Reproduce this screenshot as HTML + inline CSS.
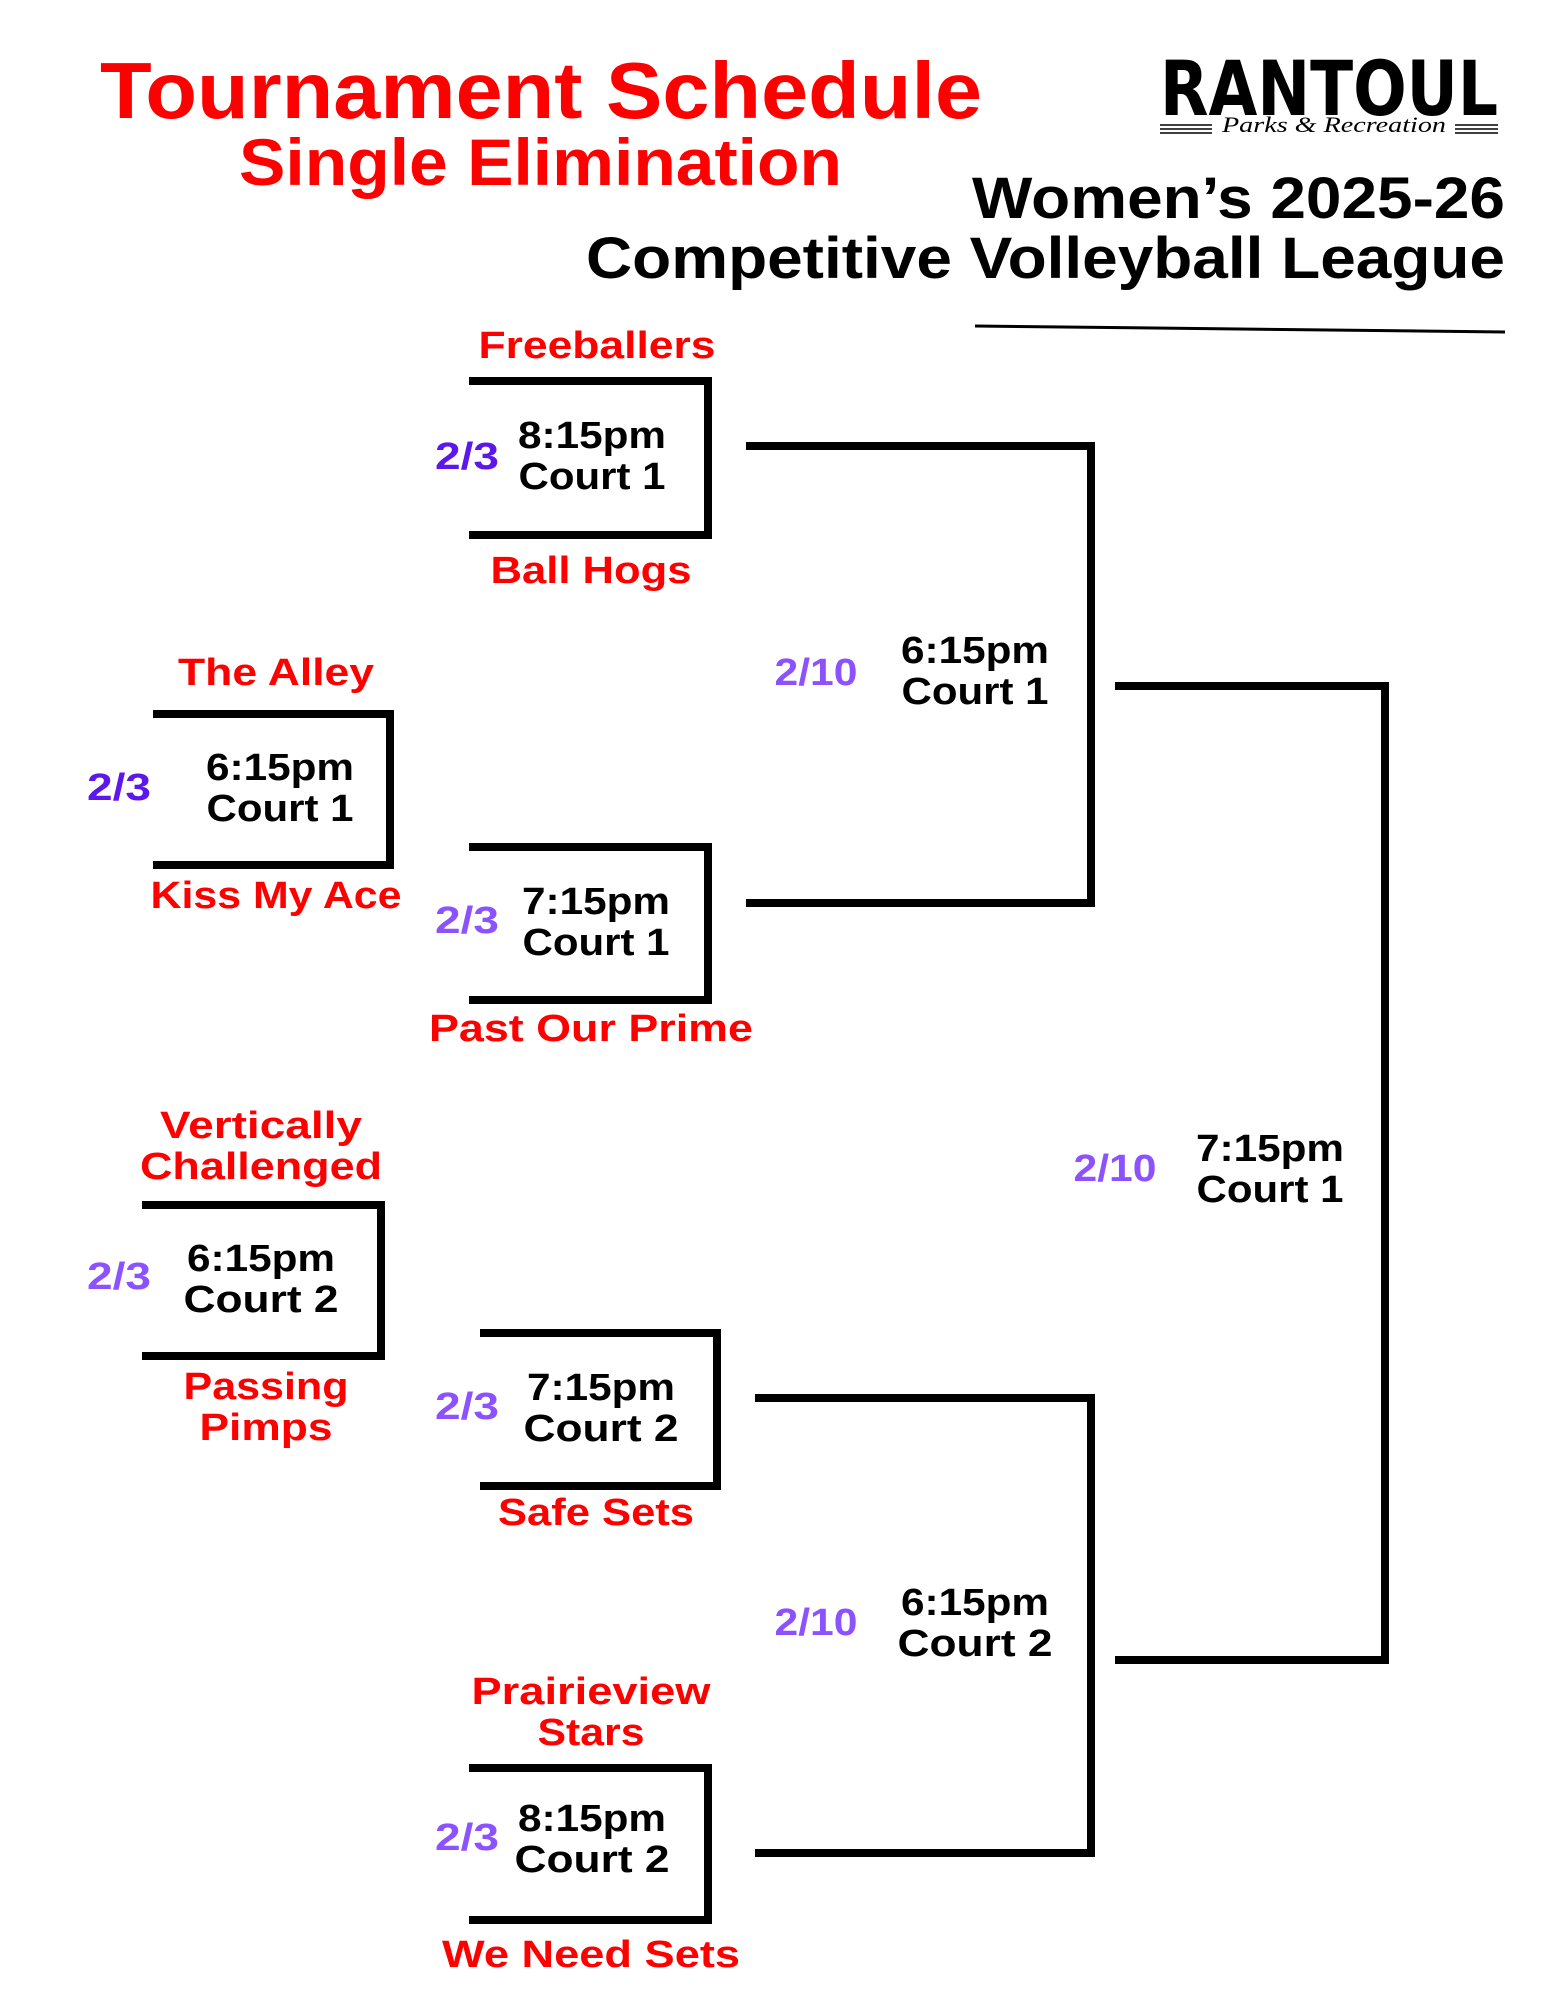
<!DOCTYPE html>
<html><head><meta charset="utf-8"><style>
html,body{margin:0;padding:0;background:#fff;}
svg{display:block;}
text{font-family:"Liberation Sans",sans-serif;font-weight:bold;}
.r{fill:#ff0000;font-size:38px;}
.k{fill:#000;font-size:38px;}
.p{fill:#8c52ff;font-size:38px;}
.d{fill:#5e17eb;font-size:38px;}
</style></head><body>
<svg width="1545" height="2000" viewBox="0 0 1545 2000" xmlns="http://www.w3.org/2000/svg">
<rect width="1545" height="2000" fill="#fff"/>
<g transform="translate(0,-3)">
<text x="100" y="121" style="font-size:80px;fill:#ff0000" textLength="882" lengthAdjust="spacingAndGlyphs">Tournament Schedule</text>
<text x="239" y="188" style="font-size:66px;fill:#ff0000" textLength="603" lengthAdjust="spacingAndGlyphs">Single Elimination</text>
<text x="972" y="221" style="font-size:58px;fill:#000" textLength="533" lengthAdjust="spacingAndGlyphs">Women’s 2025-26</text>
<text x="586" y="281" style="font-size:58px;fill:#000" textLength="919" lengthAdjust="spacingAndGlyphs">Competitive Volleyball League</text>
</g>
<line x1="975" y1="326" x2="1505" y2="332" stroke="#000" stroke-width="3"/>
<text x="1160" y="115" style="font-size:76px;fill:#000;font-family:'DejaVu Sans Condensed','Liberation Sans',sans-serif;font-weight:bold" textLength="338" lengthAdjust="spacingAndGlyphs">RANTOUL</text>
<text x="1222" y="132" style="font-size:22px;fill:#000;font-style:italic;font-weight:normal;font-family:'Liberation Serif',serif" textLength="224" lengthAdjust="spacingAndGlyphs">Parks &amp; Recreation</text>
<g stroke="#000" stroke-width="1.5">
<line x1="1160" y1="125" x2="1212" y2="125"/><line x1="1160" y1="129" x2="1212" y2="129"/><line x1="1160" y1="133" x2="1212" y2="133"/>
<line x1="1455" y1="125" x2="1498" y2="125"/><line x1="1455" y1="129" x2="1498" y2="129"/><line x1="1455" y1="133" x2="1498" y2="133"/>
</g>
<g fill="none" stroke="#000" stroke-width="8" stroke-linejoin="miter">
<polyline points="469,381 708,381 708,535 469,535"/>
<polyline points="153,714 390,714 390,865 153,865"/>
<polyline points="469,847 708,847 708,1000 469,1000"/>
<polyline points="142,1205 381,1205 381,1356 142,1356"/>
<polyline points="480,1333 717,1333 717,1486 480,1486"/>
<polyline points="469,1768 708,1768 708,1920 469,1920"/>
<polyline points="746,446 1091,446 1091,903 746,903"/>
<polyline points="755,1398 1091,1398 1091,1853 755,1853"/>
<polyline points="1115,686 1385,686 1385,1660 1115,1660"/>
</g>
<g transform="translate(0,-3)">
<text class="r" x="597" y="361" text-anchor="middle" textLength="237" lengthAdjust="spacingAndGlyphs">Freeballers</text>
<text class="d" x="467" y="472" text-anchor="middle" textLength="64" lengthAdjust="spacingAndGlyphs">2/3</text>
<text class="k" x="592" y="451" text-anchor="middle" textLength="148" lengthAdjust="spacingAndGlyphs">8:15pm</text>
<text class="k" x="592" y="492" text-anchor="middle" textLength="147" lengthAdjust="spacingAndGlyphs">Court 1</text>
<text class="r" x="591" y="586" text-anchor="middle" textLength="201" lengthAdjust="spacingAndGlyphs">Ball Hogs</text>
<text class="r" x="276" y="688" text-anchor="middle" textLength="196" lengthAdjust="spacingAndGlyphs">The Alley</text>
<text class="d" x="119" y="803" text-anchor="middle" textLength="64" lengthAdjust="spacingAndGlyphs">2/3</text>
<text class="k" x="280" y="783" text-anchor="middle" textLength="148" lengthAdjust="spacingAndGlyphs">6:15pm</text>
<text class="k" x="280" y="824" text-anchor="middle" textLength="147" lengthAdjust="spacingAndGlyphs">Court 1</text>
<text class="r" x="276" y="911" text-anchor="middle" textLength="251" lengthAdjust="spacingAndGlyphs">Kiss My Ace</text>
<text class="p" x="467" y="936" text-anchor="middle" textLength="64" lengthAdjust="spacingAndGlyphs">2/3</text>
<text class="k" x="596" y="917" text-anchor="middle" textLength="148" lengthAdjust="spacingAndGlyphs">7:15pm</text>
<text class="k" x="596" y="958" text-anchor="middle" textLength="147" lengthAdjust="spacingAndGlyphs">Court 1</text>
<text class="r" x="591" y="1044" text-anchor="middle" textLength="324" lengthAdjust="spacingAndGlyphs">Past Our Prime</text>
<text class="p" x="816" y="688" text-anchor="middle" textLength="83" lengthAdjust="spacingAndGlyphs">2/10</text>
<text class="k" x="975" y="666" text-anchor="middle" textLength="148" lengthAdjust="spacingAndGlyphs">6:15pm</text>
<text class="k" x="975" y="707" text-anchor="middle" textLength="147" lengthAdjust="spacingAndGlyphs">Court 1</text>
<text class="p" x="1115" y="1184" text-anchor="middle" textLength="83" lengthAdjust="spacingAndGlyphs">2/10</text>
<text class="k" x="1270" y="1164" text-anchor="middle" textLength="148" lengthAdjust="spacingAndGlyphs">7:15pm</text>
<text class="k" x="1270" y="1205" text-anchor="middle" textLength="147" lengthAdjust="spacingAndGlyphs">Court 1</text>
<text class="p" x="816" y="1638" text-anchor="middle" textLength="83" lengthAdjust="spacingAndGlyphs">2/10</text>
<text class="k" x="975" y="1618" text-anchor="middle" textLength="148" lengthAdjust="spacingAndGlyphs">6:15pm</text>
<text class="k" x="975" y="1659" text-anchor="middle" textLength="155" lengthAdjust="spacingAndGlyphs">Court 2</text>
<text class="r" x="261" y="1141" text-anchor="middle" textLength="202" lengthAdjust="spacingAndGlyphs">Vertically</text>
<text class="r" x="261" y="1182" text-anchor="middle" textLength="242" lengthAdjust="spacingAndGlyphs">Challenged</text>
<text class="p" x="119" y="1292" text-anchor="middle" textLength="64" lengthAdjust="spacingAndGlyphs">2/3</text>
<text class="k" x="261" y="1274" text-anchor="middle" textLength="148" lengthAdjust="spacingAndGlyphs">6:15pm</text>
<text class="k" x="261" y="1315" text-anchor="middle" textLength="155" lengthAdjust="spacingAndGlyphs">Court 2</text>
<text class="r" x="266" y="1402" text-anchor="middle" textLength="165" lengthAdjust="spacingAndGlyphs">Passing</text>
<text class="r" x="266" y="1443" text-anchor="middle" textLength="133" lengthAdjust="spacingAndGlyphs">Pimps</text>
<text class="p" x="467" y="1422" text-anchor="middle" textLength="64" lengthAdjust="spacingAndGlyphs">2/3</text>
<text class="k" x="601" y="1403" text-anchor="middle" textLength="148" lengthAdjust="spacingAndGlyphs">7:15pm</text>
<text class="k" x="601" y="1444" text-anchor="middle" textLength="155" lengthAdjust="spacingAndGlyphs">Court 2</text>
<text class="r" x="596" y="1528" text-anchor="middle" textLength="196" lengthAdjust="spacingAndGlyphs">Safe Sets</text>
<text class="r" x="591" y="1707" text-anchor="middle" textLength="239" lengthAdjust="spacingAndGlyphs">Prairieview</text>
<text class="r" x="591" y="1748" text-anchor="middle" textLength="107" lengthAdjust="spacingAndGlyphs">Stars</text>
<text class="p" x="467" y="1853" text-anchor="middle" textLength="64" lengthAdjust="spacingAndGlyphs">2/3</text>
<text class="k" x="592" y="1834" text-anchor="middle" textLength="148" lengthAdjust="spacingAndGlyphs">8:15pm</text>
<text class="k" x="592" y="1875" text-anchor="middle" textLength="155" lengthAdjust="spacingAndGlyphs">Court 2</text>
<text class="r" x="591" y="1970" text-anchor="middle" textLength="298" lengthAdjust="spacingAndGlyphs">We Need Sets</text>
</g>
</svg>
</body></html>
